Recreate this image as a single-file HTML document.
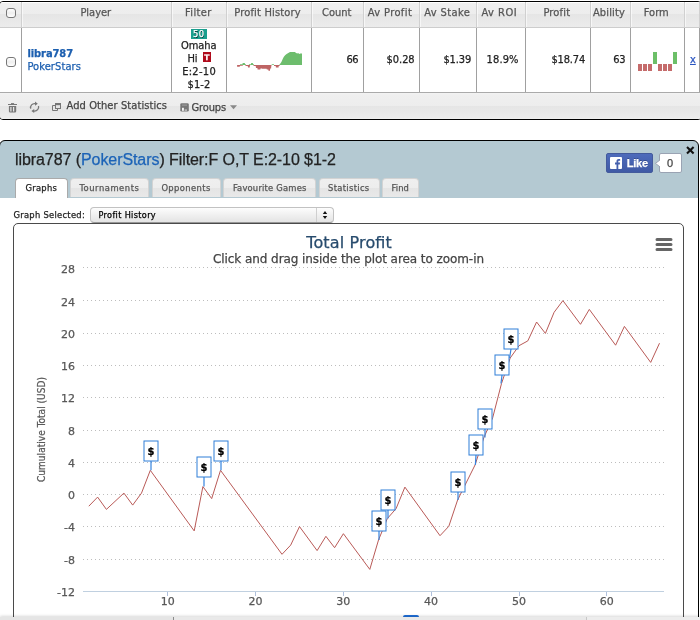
<!DOCTYPE html>
<html lang="en"><head><meta charset="utf-8"><title>libra787 - Profit History</title>
<style>
html,body{margin:0;padding:0;background:#fff}
body{width:700px;height:620px;position:relative;overflow:hidden;font-family:"DejaVu Sans Condensed","DejaVu Sans",sans-serif}
.t{position:absolute;white-space:nowrap;display:block;-webkit-text-stroke:.25px}
.a{position:absolute;display:block}
#grid{position:absolute;left:-1px;top:1px;width:703px;height:119px;box-sizing:border-box;border:1px solid #000;border-radius:4px;background:#fff;overflow:hidden}
#ghead{position:absolute;left:0;top:0;width:100%;height:25px;border-bottom:1px solid #cdcdcd;background:linear-gradient(#fff 0,#fff 1px,#efefef 1px,#ededed 12px,#e5e5e5 12px,#ececec 25px)}
#gfoot{position:absolute;left:0;top:90px;width:100%;height:26px;border-top:1px solid #aaa;background:linear-gradient(#f3f3f3 0,#efefef 2px,#ededed 13px,#e5e5e5 13px,#ececec 25px,#f2f2f2 26px)}
#grid i{position:absolute;width:1px}
#grid i.vh{top:0;height:25px;background:#d0d0d0;box-shadow:1px 0 0 rgba(255,255,255,.6)}
#grid i.vb{top:26px;height:64px;background:#a0a0a0}
.cb{position:absolute;width:10px;height:10px;box-sizing:border-box;border:1px solid #777;border-radius:3px;background:linear-gradient(#fff,#eee 50%,#fff)}
#dlg{position:absolute;left:-1px;top:140px;width:700px;height:500px;box-sizing:border-box;border:1px solid #000;border-radius:6px;background:#b4c9d2;overflow:hidden}
#dbody{position:absolute;left:0;top:57px;width:100%;height:440px;background:#fff}
#like{left:606px;top:153px;width:47px;height:20px;border-radius:2px;box-sizing:border-box;border:1px solid #435a9c;background:linear-gradient(#4e6bbb,#3f59a5)}
#cnt{left:659px;top:153px;width:23px;height:20px;box-sizing:border-box;border:1px solid #9aa3b3;border-radius:2px;background:#fff}
.tab{position:absolute;top:178px;height:19px;box-sizing:border-box;border:1px solid #d3d3d3;border-bottom:0;border-radius:4px 4px 0 0;background:linear-gradient(#efefef 0,#ededed 9px,#e4e4e4 9px,#e9e9e9 19px)}
.tab.act{height:20px;background:#fff;border-color:#aaa}
#sel{left:90px;top:207px;width:244px;height:16px;box-sizing:border-box;border:1px solid #c2c2c2;border-bottom-color:#979797;border-radius:4px;background:linear-gradient(#fdfdfd,#f0f0f0 50%,#e4e4e4)}
#sel:after{content:"";position:absolute;left:225px;top:0;width:1px;height:14px;background:#cfcfcf}
#chart{position:absolute;left:13px;top:223px;width:671px;height:420px;box-sizing:border-box;border:1px solid #4a4a4a;border-radius:5px;background:#fff}
#strip{position:absolute;left:0;top:617px;width:700px;height:3px;background:linear-gradient(90deg,#e5e5e5 0,#e5e5e5 173px,#e9e9e9 173px,#e9e9e9 586px,#ededed 586px);box-shadow:0 -1px 3px rgba(0,0,0,.16)}
#strip i{position:absolute;top:0;width:1px;height:3px;background:#8c8c8c}
</style></head>
<body>
<div id="grid">
<div id="ghead"></div>
<div id="gfoot"></div>
<i class="vh" style="left:21px"></i><i class="vb" style="left:21px"></i>
<i class="vh" style="left:171px"></i><i class="vb" style="left:171px"></i>
<i class="vh" style="left:226px"></i><i class="vb" style="left:226px"></i>
<i class="vh" style="left:311px"></i><i class="vb" style="left:311px"></i>
<i class="vh" style="left:363px"></i><i class="vb" style="left:363px"></i>
<i class="vh" style="left:419px"></i><i class="vb" style="left:419px"></i>
<i class="vh" style="left:476px"></i><i class="vb" style="left:476px"></i>
<i class="vh" style="left:525px"></i><i class="vb" style="left:525px"></i>
<i class="vh" style="left:590px"></i><i class="vb" style="left:590px"></i>
<i class="vh" style="left:630px"></i><i class="vb" style="left:630px"></i>
<i class="vh" style="left:684px"></i><i class="vb" style="left:684px"></i>
<i class="vh" style="left:699px"></i><i class="vb" style="left:699px"></i>
</div>
<span class="cb" style="left:6px;top:8px"></span>
<span class="cb" style="left:6px;top:57px"></span>
<span class="t" style='left:80.40px;top:3.00px;font:normal 11px/20px "DejaVu Sans Condensed","DejaVu Sans",sans-serif;color:#555;'>Player</span>
<span class="t" style='left:185.10px;top:3.00px;font:normal 11px/20px "DejaVu Sans Condensed","DejaVu Sans",sans-serif;color:#555;letter-spacing:0.344px;'>Filter</span>
<span class="t" style='left:234.30px;top:3.00px;font:normal 11px/20px "DejaVu Sans Condensed","DejaVu Sans",sans-serif;color:#555;letter-spacing:0.171px;'>Profit History</span>
<span class="t" style='left:322.00px;top:3.00px;font:normal 11px/20px "DejaVu Sans Condensed","DejaVu Sans",sans-serif;color:#555;letter-spacing:-0.018px;'>Count</span>
<span class="t" style='left:367.70px;top:3.00px;font:normal 11px/20px "DejaVu Sans Condensed","DejaVu Sans",sans-serif;color:#555;letter-spacing:0.401px;'>Av Profit</span>
<span class="t" style='left:424.30px;top:3.00px;font:normal 11px/20px "DejaVu Sans Condensed","DejaVu Sans",sans-serif;color:#555;letter-spacing:0.390px;'>Av Stake</span>
<span class="t" style='left:481.40px;top:3.00px;font:normal 11px/20px "DejaVu Sans Condensed","DejaVu Sans",sans-serif;color:#555;letter-spacing:0.533px;'>Av ROI</span>
<span class="t" style='left:543.40px;top:3.00px;font:normal 11px/20px "DejaVu Sans Condensed","DejaVu Sans",sans-serif;color:#555;letter-spacing:0.172px;'>Profit</span>
<span class="t" style='left:592.90px;top:3.00px;font:normal 11px/20px "DejaVu Sans Condensed","DejaVu Sans",sans-serif;color:#555;letter-spacing:0.150px;'>Ability</span>
<span class="t" style='left:643.70px;top:3.00px;font:normal 11px/20px "DejaVu Sans Condensed","DejaVu Sans",sans-serif;color:#555;letter-spacing:0.056px;'>Form</span>
<span class="t" style='left:27.40px;top:44.00px;font:bold 11px/20px "DejaVu Sans Condensed","DejaVu Sans",sans-serif;color:#1c5fb0;letter-spacing:-0.062px;'>libra787</span>
<span class="t" style='left:27.40px;top:57.00px;font:normal 11px/20px "DejaVu Sans Condensed","DejaVu Sans",sans-serif;color:#1c5fb0;letter-spacing:0.102px;'>PokerStars</span>
<span class="a" style="left:191px;top:29px;width:16px;height:10px;background:#1a9f8e"></span>
<span class="t" style='left:193.10px;top:24.00px;font:normal 9.3px/20px "DejaVu Sans Condensed","DejaVu Sans",sans-serif;color:#fff;letter-spacing:0.330px;text-shadow:.6px .6px 0 #033;'>50</span>
<span class="t" style='left:181.00px;top:36.00px;font:normal 11px/20px "DejaVu Sans Condensed","DejaVu Sans",sans-serif;color:#222;letter-spacing:-0.069px;'>Omaha</span>
<span class="t" style='left:187.50px;top:49.00px;font:normal 11px/20px "DejaVu Sans Condensed","DejaVu Sans",sans-serif;color:#222;letter-spacing:-0.152px;'>Hi</span>
<span class="a" style="left:203px;top:52px;width:8px;height:10px;background:#b00b1c"></span>
<span class="t" style='left:204.20px;top:48.00px;font:bold 7.6px/20px "DejaVu Sans",sans-serif;color:#fff;letter-spacing:0.513px;'>T</span>
<span class="t" style='left:182.20px;top:62.00px;font:normal 11px/20px "DejaVu Sans Condensed","DejaVu Sans",sans-serif;color:#222;letter-spacing:0.292px;'>E:2-10</span>
<span class="t" style='left:187.50px;top:75.00px;font:normal 11px/20px "DejaVu Sans Condensed","DejaVu Sans",sans-serif;color:#222;letter-spacing:0.108px;'>$1-2</span>
<span class="t" style='left:346.60px;top:50.00px;font:normal 11px/20px "DejaVu Sans Condensed","DejaVu Sans",sans-serif;color:#222;letter-spacing:-0.597px;'>66</span>
<span class="t" style='left:386.60px;top:50.00px;font:normal 11px/20px "DejaVu Sans Condensed","DejaVu Sans",sans-serif;color:#222;letter-spacing:-0.066px;'>$0.28</span>
<span class="t" style='left:443.40px;top:50.00px;font:normal 11px/20px "DejaVu Sans Condensed","DejaVu Sans",sans-serif;color:#222;letter-spacing:-0.126px;'>$1.39</span>
<span class="t" style='left:486.60px;top:50.00px;font:normal 11px/20px "DejaVu Sans Condensed","DejaVu Sans",sans-serif;color:#222;letter-spacing:0.113px;'>18.9%</span>
<span class="t" style='left:551.40px;top:50.00px;font:normal 11px/20px "DejaVu Sans Condensed","DejaVu Sans",sans-serif;color:#222;letter-spacing:-0.154px;'>$18.74</span>
<span class="t" style='left:613.30px;top:50.00px;font:normal 11px/20px "DejaVu Sans Condensed","DejaVu Sans",sans-serif;color:#222;letter-spacing:-0.447px;'>63</span>
<span class="t" style='left:690.00px;top:50.00px;font:normal 11px/20px "DejaVu Sans Condensed","DejaVu Sans",sans-serif;color:#2a55c0;letter-spacing:-0.059px;text-decoration:underline;'>x</span>
<svg class="a" style="left:236px;top:48px" width="70" height="26" viewBox="236 48 70 26">
<path d="M240,65V64.2H242.6V63.1H244.9V64.2H246V65Z M248.9,65V64.2H251.1V63.1H252.9V64.2H254V65Z M271.7,65V64.2H274V65Z M279.1,65L280,63.9 281.4,62.1 282.6,59.3 283.7,57 285.1,55.3 286.6,53.9 288.3,53 290,52.1H295L296,53 297.5,53.6 298,53 299.4,54.1 300.3,53.6H302V65Z" fill="#6dbd6d"/>
<path d="M237.1,65V66.7H239.5L240.3,65.8H242.6L243,65Z M244.9,65L246,66.1H247.7L248,67.6H249.7L249.9,66 250.3,65Z M253.4,65L253.6,66.1H255.7L256,67.9H257.4L257.6,69.6H260.3L260.5,68.4H262V68.8H266.6L266.8,69.6H268.3L268.5,70.7H270L270.2,68.4H271.1L271.3,66.1 271.7,65Z M274,65V66.1H275.7L275.9,67.6H278.6L278.7,66.1H279.7V65Z" fill="#be6464"/>
</svg>
<svg class="a" style="left:636px;top:50px" width="44" height="24" viewBox="636 50 44 24">
<rect x="638" y="64" width="4" height="7" fill="#c56b6b"/>
<rect x="643" y="64" width="4" height="7" fill="#c56b6b"/>
<rect x="648" y="64" width="4" height="7" fill="#c56b6b"/>
<rect x="653" y="52" width="4" height="12" fill="#6cbf68"/>
<rect x="658" y="64" width="4" height="7" fill="#c56b6b"/>
<rect x="663" y="64" width="4" height="7" fill="#c56b6b"/>
<rect x="668" y="64" width="4" height="7" fill="#c56b6b"/>
<rect x="673" y="52" width="4" height="12" fill="#6cbf68"/>
</svg>
<svg class="a" style="left:6px;top:100px" width="240" height="16" viewBox="6 100 240 16">
<g fill="#777"><rect x="8" y="104" width="9" height="1"/><rect x="11" y="103.1" width="3.1" height="1"/><path d="M8.9,106h7.3v5.3a1.3,1.3 0 0 1 -1.3,1.3h-4.7a1.3,1.3 0 0 1 -1.3,-1.3z"/></g>
<g stroke="#e6e6e6" stroke-width="1.2"><path d="M10.9,107v4.5M13.6,107v4.5"/></g>
<g fill="none" stroke="#777" stroke-width="1.3"><path d="M30.7,108.6a4,4 0 0 1 4.4,-5"/><path d="M38.5,106a4,4 0 0 1 -4.4,5"/></g>
<path d="M35,101.6l2.8,2.1 -2.8,2.1z M34.2,108.9l-2.8,2.1 2.8,2.1z" fill="#777"/>
<g fill="none" stroke="#777" stroke-width="1"><path d="M55,105.5H52.5V110.5H57.5V109"/><rect x="55.5" y="103.5" width="5" height="5"/><path d="M55.5,104.4h5" stroke-width="1.6"/></g>
<rect x="180.3" y="103.2" width="8.5" height="8.4" rx="1.4" fill="#777"/><rect x="182" y="104.6" width="5" height="1" fill="#a2a2a2"/><rect x="182" y="107.8" width="1.9" height="3" fill="#f4f4f4"/><rect x="184.6" y="109.4" width="2.4" height="1.4" fill="#c4c4c4"/>
<path d="M230,105.2h7l-3.5,4.1z" fill="#888"/>
</svg>
<span class="t" style='left:66.50px;top:96.00px;font:normal 11px/20px "DejaVu Sans Condensed","DejaVu Sans",sans-serif;color:#444;letter-spacing:0.092px;'>Add Other Statistics</span>
<span class="t" style='left:191.60px;top:98.00px;font:normal 11px/20px "DejaVu Sans Condensed","DejaVu Sans",sans-serif;color:#444;letter-spacing:-0.144px;'>Groups</span>
<div id="dlg"><div id="dbody"></div></div>
<span class="t" style='left:15.00px;top:150.00px;font:normal 16px/20px "Liberation Sans",sans-serif;color:#222;letter-spacing:-0.075px;'>libra787 (<span style="color:#1c63b7">PokerStars</span>) Filter:F O,T E:2-10 $1-2</span>
<svg class="a" style="left:685px;top:145px" width="10" height="10" viewBox="0 0 10 10"><path d="M2,2L8.6,8.4M8.6,2L2,8.4" stroke="#111" stroke-width="2.1" fill="none"/></svg>
<span class="a" id="like"></span>
<svg class="a" style="left:610px;top:157px" width="12" height="12" viewBox="0 0 12 12"><rect width="12" height="12" rx="1" fill="#fff"/><path d="M8.3,12V7.4h1.5l.25-1.8H8.3V4.5c0-.5.15-.85.9-.85h.95V2.05C9.98,2.03,9.42,2,8.8,2 7.45,2 6.5,2.8 6.5,4.3v1.3H5v1.8h1.5V12z" fill="#4560ad"/></svg>
<span class="t" style='left:626.70px;top:153.00px;font:bold 11px/20px "Liberation Sans",sans-serif;color:#fff;letter-spacing:-0.229px;text-shadow:0 -1px 0 #354c8c;'>Like</span>
<span class="a" id="cnt"></span>
<svg class="a" style="left:654px;top:158px" width="7" height="11" viewBox="0 0 7 11"><path d="M6,2L1.4,5.4L6,8.8" fill="#fff" stroke="#9aa3b3" stroke-width="1"/><path d="M5.6,2.9V7.9" stroke="#fff" stroke-width="1.3"/></svg>
<span class="t" style='left:667.00px;top:153.00px;font:normal 11px/20px "Liberation Sans",sans-serif;color:#444;letter-spacing:-0.125px;'>0</span>
<span class="tab act" style="left:15px;width:53px"></span>
<span class="t" style='left:25.40px;top:178.00px;font:normal 9.3px/20px "DejaVu Sans Condensed","DejaVu Sans",sans-serif;color:#222;letter-spacing:0.297px;'>Graphs</span>
<span class="tab" style="left:70px;width:79px"></span>
<span class="t" style='left:79.50px;top:178.00px;font:normal 9.3px/20px "DejaVu Sans Condensed","DejaVu Sans",sans-serif;color:#555;letter-spacing:0.546px;'>Tournaments</span>
<span class="tab" style="left:152px;width:69px"></span>
<span class="t" style='left:161.40px;top:178.00px;font:normal 9.3px/20px "DejaVu Sans Condensed","DejaVu Sans",sans-serif;color:#555;letter-spacing:0.398px;'>Opponents</span>
<span class="tab" style="left:223px;width:93px"></span>
<span class="t" style='left:232.90px;top:178.00px;font:normal 9.3px/20px "DejaVu Sans Condensed","DejaVu Sans",sans-serif;color:#555;letter-spacing:0.209px;'>Favourite Games</span>
<span class="tab" style="left:319px;width:61px"></span>
<span class="t" style='left:328.00px;top:178.00px;font:normal 9.3px/20px "DejaVu Sans Condensed","DejaVu Sans",sans-serif;color:#555;letter-spacing:0.327px;'>Statistics</span>
<span class="tab" style="left:382px;width:37px"></span>
<span class="t" style='left:391.40px;top:178.00px;font:normal 9.3px/20px "DejaVu Sans Condensed","DejaVu Sans",sans-serif;color:#555;letter-spacing:0.155px;'>Find</span>
<span class="t" style='left:13.50px;top:205.00px;font:normal 9.3px/20px "DejaVu Sans Condensed","DejaVu Sans",sans-serif;color:#222;letter-spacing:0.273px;'>Graph Selected:</span>
<span class="a" id="sel"></span>
<svg class="a" style="left:320px;top:209px" width="10" height="12" viewBox="320 209 10 12"><path d="M322.8,214L325,211 327.2,214z M322.8,216L325,219 327.2,216z" fill="#111"/></svg>
<span class="t" style='left:98.50px;top:205.00px;font:normal 9px/20px "DejaVu Sans Condensed","DejaVu Sans",sans-serif;color:#000;letter-spacing:0.360px;'>Profit History</span>
<div id="chart"></div>
<svg class="a" style="left:0;top:224px" width="700" height="396" viewBox="0 224 700 396" font-family='"DejaVu Sans Condensed","DejaVu Sans",sans-serif'>
<text x="349" y="247.7" text-anchor="middle" font-size="16" fill="#274b6d" stroke="#274b6d" stroke-width=".25" textLength="85.6" lengthAdjust="spacing" font-family='"DejaVu Sans",sans-serif'>Total Profit</text>
<text x="348.5" y="263" text-anchor="middle" font-size="12" fill="#444" stroke="#444" stroke-width=".25" textLength="271" lengthAdjust="spacing" font-family='"DejaVu Sans",sans-serif'>Click and drag inside the plot area to zoom-in</text>
<path d="M83,267.5H664" stroke="#bdbdbd" stroke-width="1" stroke-dasharray="1,3" fill="none"/>
<path d="M83,300.5H664" stroke="#bdbdbd" stroke-width="1" stroke-dasharray="1,3" fill="none"/>
<path d="M83,333.5H664" stroke="#bdbdbd" stroke-width="1" stroke-dasharray="1,3" fill="none"/>
<path d="M83,365.5H664" stroke="#bdbdbd" stroke-width="1" stroke-dasharray="1,3" fill="none"/>
<path d="M83,397.5H664" stroke="#bdbdbd" stroke-width="1" stroke-dasharray="1,3" fill="none"/>
<path d="M83,430.5H664" stroke="#bdbdbd" stroke-width="1" stroke-dasharray="1,3" fill="none"/>
<path d="M83,462.5H664" stroke="#bdbdbd" stroke-width="1" stroke-dasharray="1,3" fill="none"/>
<path d="M83,494.5H664" stroke="#bdbdbd" stroke-width="1" stroke-dasharray="1,3" fill="none"/>
<path d="M83,526.5H664" stroke="#bdbdbd" stroke-width="1" stroke-dasharray="1,3" fill="none"/>
<path d="M83,559.5H664" stroke="#bdbdbd" stroke-width="1" stroke-dasharray="1,3" fill="none"/>
<path d="M83,591.5H664" stroke="#c0d0e0" stroke-width="1" fill="none"/>
<text x="75" y="273.2" text-anchor="end" font-size="11" fill="#585858" stroke="#585858" stroke-width=".25" font-family='"DejaVu Sans",sans-serif'>28</text>
<text x="75" y="306.2" text-anchor="end" font-size="11" fill="#585858" stroke="#585858" stroke-width=".25" font-family='"DejaVu Sans",sans-serif'>24</text>
<text x="75" y="338.2" text-anchor="end" font-size="11" fill="#585858" stroke="#585858" stroke-width=".25" font-family='"DejaVu Sans",sans-serif'>20</text>
<text x="75" y="370.2" text-anchor="end" font-size="11" fill="#585858" stroke="#585858" stroke-width=".25" font-family='"DejaVu Sans",sans-serif'>16</text>
<text x="75" y="402.2" text-anchor="end" font-size="11" fill="#585858" stroke="#585858" stroke-width=".25" font-family='"DejaVu Sans",sans-serif'>12</text>
<text x="75" y="435.2" text-anchor="end" font-size="11" fill="#585858" stroke="#585858" stroke-width=".25" font-family='"DejaVu Sans",sans-serif'>8</text>
<text x="75" y="467.2" text-anchor="end" font-size="11" fill="#585858" stroke="#585858" stroke-width=".25" font-family='"DejaVu Sans",sans-serif'>4</text>
<text x="75" y="499.2" text-anchor="end" font-size="11" fill="#585858" stroke="#585858" stroke-width=".25" font-family='"DejaVu Sans",sans-serif'>0</text>
<text x="75" y="531.2" text-anchor="end" font-size="11" fill="#585858" stroke="#585858" stroke-width=".25" font-family='"DejaVu Sans",sans-serif'>-4</text>
<text x="75" y="564.2" text-anchor="end" font-size="11" fill="#585858" stroke="#585858" stroke-width=".25" font-family='"DejaVu Sans",sans-serif'>-8</text>
<text x="75" y="596.2" text-anchor="end" font-size="11" fill="#585858" stroke="#585858" stroke-width=".25" font-family='"DejaVu Sans",sans-serif'>-12</text>
<path d="M167.5,592V596" stroke="#b0c0dc" stroke-width="1"/>
<text x="167.7" y="604.8" text-anchor="middle" font-size="11" fill="#585858" stroke="#585858" stroke-width=".25" font-family='"DejaVu Sans",sans-serif'>10</text>
<path d="M255.5,592V596" stroke="#b0c0dc" stroke-width="1"/>
<text x="255.5" y="604.8" text-anchor="middle" font-size="11" fill="#585858" stroke="#585858" stroke-width=".25" font-family='"DejaVu Sans",sans-serif'>20</text>
<path d="M343.5,592V596" stroke="#b0c0dc" stroke-width="1"/>
<text x="343.3" y="604.8" text-anchor="middle" font-size="11" fill="#585858" stroke="#585858" stroke-width=".25" font-family='"DejaVu Sans",sans-serif'>30</text>
<path d="M431.5,592V596" stroke="#b0c0dc" stroke-width="1"/>
<text x="431.1" y="604.8" text-anchor="middle" font-size="11" fill="#585858" stroke="#585858" stroke-width=".25" font-family='"DejaVu Sans",sans-serif'>40</text>
<path d="M519.5,592V596" stroke="#b0c0dc" stroke-width="1"/>
<text x="518.9" y="604.8" text-anchor="middle" font-size="11" fill="#585858" stroke="#585858" stroke-width=".25" font-family='"DejaVu Sans",sans-serif'>50</text>
<path d="M606.5,592V596" stroke="#b0c0dc" stroke-width="1"/>
<text x="606.7" y="604.8" text-anchor="middle" font-size="11" fill="#585858" stroke="#585858" stroke-width=".25" font-family='"DejaVu Sans",sans-serif'>60</text>
<text transform="translate(44.6,429.5) rotate(-90)" text-anchor="middle" font-size="10" fill="#5a5a5a" stroke="#5a5a5a" stroke-width=".25" textLength="105" lengthAdjust="spacing">Cumulative Total (USD)</text>
<path d="M88.8,506.2 L97.6,497.1 L106.4,509.4 L123.9,493.1 L132.7,505.1 L141.5,493.1 L150.3,470.3 L194.2,530.9 L202.9,486.6 L211.7,498.6 L220.5,470.3 L282.0,554.3 L290.7,545.1 L299.5,526.6 L317.1,550.6 L325.9,536.3 L334.6,547.7 L343.4,533.7 L369.8,569.4 L378.5,540.0 L387.3,518.6 L396.1,508.6 L404.9,487.1 L440.0,535.7 L448.8,526.3 L457.6,500.0 L475.1,464.9 L483.9,437.5 L492.7,417.7 L501.5,383.5 L510.2,358.0 L519.0,345.7 L527.8,340.9 L536.6,322.0 L545.4,333.4 L554.1,312.3 L562.9,300.6 L580.5,324.3 L589.3,309.4 L615.6,345.2 L624.4,326.4 L650.7,362.4 L659.5,343.2" fill="none" stroke="#b95a57" stroke-width="1" stroke-linejoin="round"/>
<path d="M151,461 L151.0,470.3" stroke="#3583de" stroke-width="1.2"/>
<rect x="144" y="441" width="14" height="20" fill="#fff" stroke="#2f7ed8" stroke-width="1"/>
<text x="151" y="455" text-anchor="middle" font-size="11" font-weight="bold" fill="#000" stroke="#000" stroke-width=".25">$</text>
<path d="M204,477 L204.0,486.6" stroke="#3583de" stroke-width="1.2"/>
<rect x="197" y="457" width="14" height="20" fill="#fff" stroke="#2f7ed8" stroke-width="1"/>
<text x="204" y="471" text-anchor="middle" font-size="11" font-weight="bold" fill="#000" stroke="#000" stroke-width=".25">$</text>
<path d="M221,461 L221.0,470.3" stroke="#3583de" stroke-width="1.2"/>
<rect x="214" y="441" width="14" height="20" fill="#fff" stroke="#2f7ed8" stroke-width="1"/>
<text x="221" y="455" text-anchor="middle" font-size="11" font-weight="bold" fill="#000" stroke="#000" stroke-width=".25">$</text>
<path d="M379,531 L379.0,540.0" stroke="#3583de" stroke-width="1.2"/>
<rect x="372" y="511" width="14" height="20" fill="#fff" stroke="#2f7ed8" stroke-width="1"/>
<text x="379" y="525" text-anchor="middle" font-size="11" font-weight="bold" fill="#000" stroke="#000" stroke-width=".25">$</text>
<path d="M388,510 L388.0,518.6" stroke="#3583de" stroke-width="1.2"/>
<rect x="381" y="490" width="14" height="20" fill="#fff" stroke="#2f7ed8" stroke-width="1"/>
<text x="388" y="504" text-anchor="middle" font-size="11" font-weight="bold" fill="#000" stroke="#000" stroke-width=".25">$</text>
<path d="M458,492 L458.0,500.0" stroke="#3583de" stroke-width="1.2"/>
<rect x="451" y="472" width="14" height="20" fill="#fff" stroke="#2f7ed8" stroke-width="1"/>
<text x="458" y="486" text-anchor="middle" font-size="11" font-weight="bold" fill="#000" stroke="#000" stroke-width=".25">$</text>
<path d="M476,455 L475.4,464.9" stroke="#3583de" stroke-width="1.2"/>
<rect x="469" y="435" width="14" height="20" fill="#fff" stroke="#2f7ed8" stroke-width="1"/>
<text x="476" y="449" text-anchor="middle" font-size="11" font-weight="bold" fill="#000" stroke="#000" stroke-width=".25">$</text>
<path d="M485,429 L485.0,437.5" stroke="#3583de" stroke-width="1.2"/>
<rect x="478" y="409" width="14" height="20" fill="#fff" stroke="#2f7ed8" stroke-width="1"/>
<text x="485" y="423" text-anchor="middle" font-size="11" font-weight="bold" fill="#000" stroke="#000" stroke-width=".25">$</text>
<path d="M502,375 L501.0,383.5" stroke="#3583de" stroke-width="1.2"/>
<rect x="495" y="355" width="14" height="20" fill="#fff" stroke="#2f7ed8" stroke-width="1"/>
<text x="502" y="369" text-anchor="middle" font-size="11" font-weight="bold" fill="#000" stroke="#000" stroke-width=".25">$</text>
<path d="M511,349 L509.6,358.0" stroke="#3583de" stroke-width="1.2"/>
<rect x="504" y="329" width="14" height="20" fill="#fff" stroke="#2f7ed8" stroke-width="1"/>
<text x="511" y="343" text-anchor="middle" font-size="11" font-weight="bold" fill="#000" stroke="#000" stroke-width=".25">$</text>
<rect x="403" y="615" width="16" height="12" rx="2" fill="#1f6fd8"/>
<path d="M657,239.5H671M657,244.5H671M657,249.5H671" stroke="#666" stroke-width="3" stroke-linecap="round"/>
</svg>
<div id="strip"><i style="left:173px"></i><i style="left:586px;background:#c8c8c8"></i></div>
</body></html>
